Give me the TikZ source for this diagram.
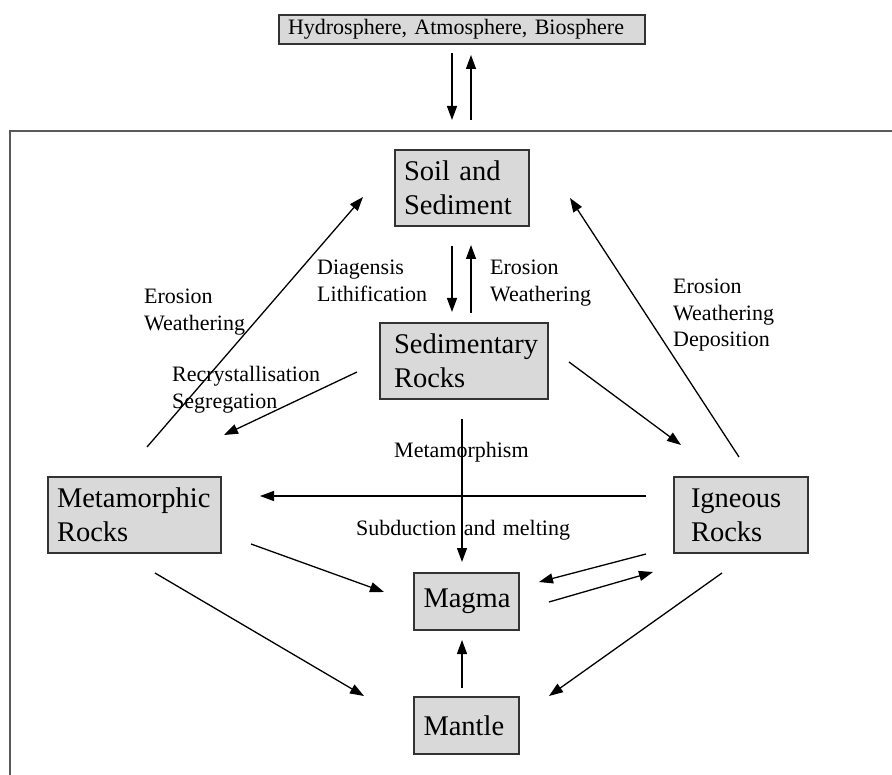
\documentclass[tikz,border=0pt]{standalone}
\usepackage{fontspec}
\setmainfont{Liberation Serif}
\usetikzlibrary{arrows.meta}
\begin{document}
\begin{tikzpicture}[x=1pt,y=-1pt,
  box/.style={draw=black!80, fill=black!15, line width=1.4pt, align=left,
    font=\fontsize{28.5}{34}\selectfont, inner xsep=0pt, inner ysep=0pt},
  topbox/.style={box, font=\fontsize{22}{26}\selectfont},
  lbl/.style={font=\fontsize{22}{26.5}\selectfont, align=left, inner sep=0pt,
    anchor=base west, text width=320pt},
  arr/.style={line width=1.3pt, -{Triangle[length=14pt,width=10pt]}},
  frame/.style={draw=black!65, line width=2pt}]
\useasboundingbox (0,0) rectangle (892,775);
% frame
\draw[frame] (892,131) -- (10,131) -- (10,775);
% boxes
\node[topbox, minimum width=366pt, minimum height=29pt, text width=348pt] (hab) at (462,29.5) {Hydrosphere, Atmosphere, Biosphere};
\node[box, minimum width=134pt, minimum height=76pt, text width=116pt] (soil) at (462,188) {Soil and\\Sediment};
\node[box, minimum width=168pt, minimum height=76pt, text width=140pt] (sed) at (464,361) {Sedimentary\\Rocks};
\node[box, minimum width=173pt, minimum height=76pt, text width=155pt] (meta) at (134.5,515) {Metamorphic\\Rocks};
\node[box, minimum width=134pt, minimum height=76pt, text width=100pt] (ign) at (741,515) {Igneous\\Rocks};
\node[box, minimum width=105pt, minimum height=57pt, text width=86pt] (magma) at (466.5,601.5) {Magma};
\node[box, minimum width=105pt, minimum height=57pt, text width=86pt] (mantle) at (466.5,725.5) {Mantle};
% labels
\node[lbl] (l1) at (317,275) {Diagensis\\Lithification};
\node[lbl] (l2) at (490,275) {Erosion\\Weathering};
\node[lbl] (l3) at (144,304) {Erosion\\Weathering};
\node[lbl] (l4) at (673,294) {Erosion\\Weathering\\Deposition};
\node[lbl] (l5) at (172,382) {Recrystallisation\\Segregation};
\node[lbl] (l6) at (394,457) {Metamorphism};
\node[lbl] (l7) at (356,535) {Subduction and melting};
% connector end points
\coordinate (a1) at (452,53);  \coordinate (a2) at (452,120);
\coordinate (b1) at (471,120); \coordinate (b2) at (471,55);
\coordinate (c1) at (452,246); \coordinate (c2) at (452,312);
\coordinate (d1) at (471,313); \coordinate (d2) at (471,245);
\coordinate (e1) at (147,447); \coordinate (e2) at (363,197);
\coordinate (f1) at (739,457); \coordinate (f2) at (570,198);
\coordinate (g1) at (357,372); \coordinate (g2) at (224,435);
\coordinate (h1) at (569,362); \coordinate (h2) at (681,445);
\coordinate (i1) at (462,419); \coordinate (i2) at (462,562);
\coordinate (j1) at (646,496); \coordinate (j2) at (260,496);
\coordinate (k1) at (251,544); \coordinate (k2) at (384,592);
\coordinate (m1) at (155,573); \coordinate (m2) at (364,696);
\coordinate (n1) at (646,554); \coordinate (n2) at (539,582);
\coordinate (o1) at (549,602); \coordinate (o2) at (653,572);
\coordinate (p1) at (722,573); \coordinate (p2) at (549,696);
\coordinate (q1) at (462,688); \coordinate (q2) at (462,640);
% connectors
\draw[arr] (a1) -- (a2);
\draw[arr] (b1) -- (b2);
\draw[arr] (c1) -- (c2);
\draw[arr] (d1) -- (d2);
\draw[arr] (e1) -- (e2);
\draw[arr] (f1) -- (f2);
\draw[arr] (g1) -- (g2);
\draw[arr] (h1) -- (h2);
\draw[arr] (i1) -- (i2);
\draw[arr] (j1) -- (j2);
\draw[arr] (k1) -- (k2);
\draw[arr] (m1) -- (m2);
\draw[arr] (n1) -- (n2);
\draw[arr] (o1) -- (o2);
\draw[arr] (p1) -- (p2);
\draw[arr] (q1) -- (q2);
\end{tikzpicture}
\end{document}
